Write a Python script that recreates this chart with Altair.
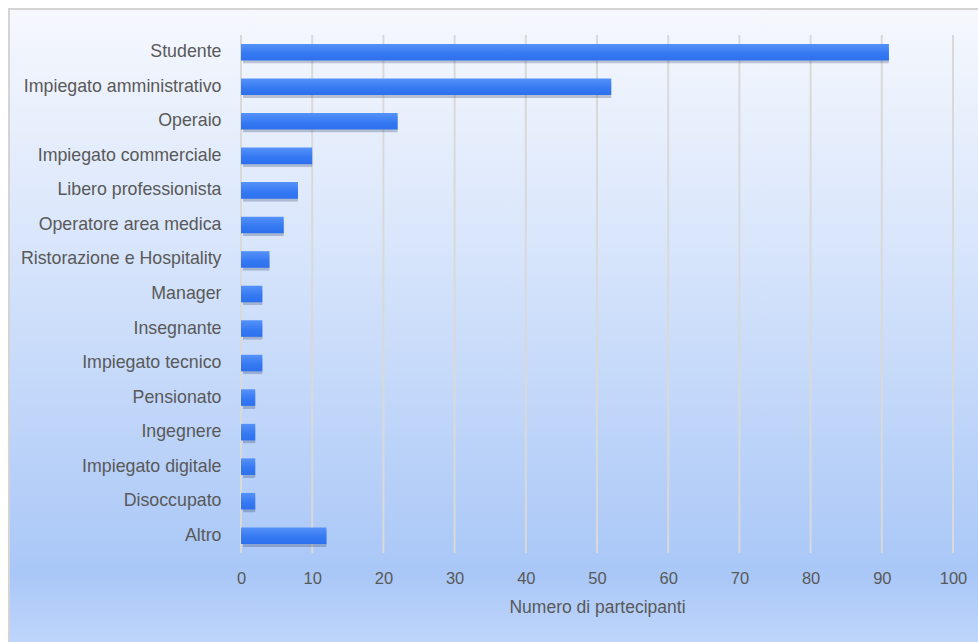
import altair as alt
import pandas as pd

categories = [
    "Studente", "Impiegato amministrativo", "Operaio", "Impiegato commerciale",
    "Libero professionista", "Operatore area medica", "Ristorazione e Hospitality",
    "Manager", "Insegnante", "Impiegato tecnico", "Pensionato", "Ingegnere",
    "Impiegato digitale", "Disoccupato", "Altro",
]
values = [91, 52, 22, 10, 8, 6, 4, 3, 3, 3, 2, 2, 2, 2, 12]
x_ticks = [0, 10, 20, 30, 40, 50, 60, 70, 80, 90, 100]

df = pd.DataFrame({"categoria": categories, "n": values})
ticks_df = pd.DataFrame({"t": x_ticks})

FONT = "Liberation Sans"
W, H = 712, 518
PL, PT = 241, 35

bg = alt.Chart(alt.Data(values=[{}])).mark_rect(
    clip=False,
    stroke="#d4d4d4",
    strokeWidth=2,
    color=alt.Gradient(
        gradient="linear", x1=0, x2=0, y1=0, y2=1,
        stops=[
            alt.GradientStop(color="#f6f8fd", offset=0),
            alt.GradientStop(color="#d6e4fb", offset=0.38),
            alt.GradientStop(color="#a9c7f7", offset=0.85),
            alt.GradientStop(color="#c8dcfc", offset=1),
        ],
    ),
).encode(
    x=alt.value(-PL + 9), x2=alt.value(W + 60),
    y=alt.value(-PT + 9), y2=alt.value(H + 120),
)

grid = alt.Chart(ticks_df).mark_rule(color="#d9d9d9", strokeWidth=2).encode(
    x=alt.X("t:Q"), y=alt.value(0), y2=alt.value(H),
)

xenc = alt.X(
    "n:Q",
    scale=alt.Scale(domain=[0, 100], nice=False),
    axis=alt.Axis(
        values=x_ticks, title="Numero di partecipanti", grid=False,
        domain=False, ticks=False, zindex=1, labelFlush=False,
        labelFont=FONT, labelFontSize=16.5, labelColor="#595959", labelPadding=17,
        titleFont=FONT, titleFontSize=17.5, titleColor="#595959",
        titleFontWeight="normal", titlePadding=12,
    ),
)
yenc = alt.Y(
    "categoria:N", sort=categories,
    scale=alt.Scale(paddingInner=0.52, paddingOuter=0.26),
    axis=alt.Axis(
        title=None, domain=False, ticks=False, grid=False, zindex=1,
        labelFont=FONT, labelFontSize=17.8, labelColor="#595959",
        labelPadding=20, labelLimit=300,
    ),
)

shadow = alt.Chart(df).mark_bar(
    color="#1a2a50", opacity=0.25, xOffset=2, yOffset=3, cornerRadius=1,
).encode(x=alt.X("n:Q"), y=alt.Y("categoria:N", sort=categories))

bars = alt.Chart(df).mark_bar(
    color=alt.Gradient(
        gradient="linear", x1=0, x2=0, y1=0, y2=1,
        stops=[
            alt.GradientStop(color="#5592f8", offset=0),
            alt.GradientStop(color="#3478f2", offset=0.6),
            alt.GradientStop(color="#2d70ee", offset=1),
        ],
    ),
).encode(x=xenc, y=yenc)

chart = alt.layer(bg, grid, shadow, bars).properties(
    width=W, height=H,
    autosize=alt.AutoSizeParams(type="none"),
    padding={"left": PL, "top": PT, "right": 978 - PL - W, "bottom": 642 - PT - H},
    background="white",
).configure_view(stroke=None)

chart.save("out.html", embed_options={"renderer": "svg", "actions": False})
